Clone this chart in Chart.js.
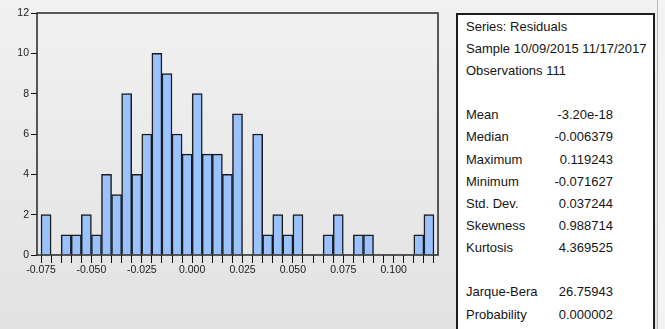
<!DOCTYPE html>
<html>
<head>
<meta charset="utf-8">
<script src="https://cdn.jsdelivr.net/npm/chart.js@4/dist/chart.umd.min.js"></script>
<style>
  html, body { margin: 0; padding: 0; }
  body {
    width: 665px; height: 329px; overflow: hidden; position: relative;
    background: linear-gradient(#f1f1f1, #e2e2e2);
    font-family: "Liberation Sans", Arial, sans-serif;
  }
  #plot { position: absolute; left: 0; top: 0; }
  #stats {
    position: absolute; left: 456px; top: 13px; width: 199px; height: 330px;
    box-sizing: border-box; background: #fff; border: 2px solid #1e1e1e;
  }
  #stats .row { position: absolute; left: 0; width: 155px; height: 22px; line-height: 22px;
    font-size: 13px; color: #151515; white-space: nowrap; }
  #stats .lbl { position: absolute; left: 8px; top: 0; }
  #stats .val { position: absolute; left: 0; width: 155px; top: 0; text-align: right; }
  #edge { position: absolute; left: 657px; top: 0; width: 1px; height: 329px; background: #b9b9b9; }
  #edgefill { position: absolute; left: 658px; top: 0; width: 7px; height: 329px; background: #f3f3f3; }
</style>
</head>
<body>
<canvas id="plot" width="450" height="329"></canvas>
<div id="stats"></div>
<div id="edge"></div>
<div id="edgefill"></div>
<script>
// Histogram of residuals: bins of width 0.005 starting at -0.075
const binWidth = 0.005;
const binStarts = [
  -0.075, -0.070, -0.065, -0.060, -0.055, -0.050, -0.045, -0.040, -0.035, -0.030,
  -0.025, -0.020, -0.015, -0.010, -0.005, 0.000, 0.005, 0.010, 0.015, 0.020,
  0.025, 0.030, 0.035, 0.040, 0.045, 0.050, 0.055, 0.060, 0.065, 0.070,
  0.075, 0.080, 0.085, 0.090, 0.095, 0.100, 0.105, 0.110, 0.115
];
const counts = [
  2, 0, 1, 1, 2, 1, 4, 3, 8, 4,
  6, 10, 9, 6, 5, 8, 5, 5, 4, 7,
  0, 6, 1, 2, 1, 2, 0, 0, 1, 2,
  0, 1, 1, 0, 0, 0, 0, 1, 2
];
// Tick marks on every bin edge, labels every fifth edge
const tickEdges = [
  -0.075, -0.070, -0.065, -0.060, -0.055, -0.050, -0.045, -0.040, -0.035, -0.030,
  -0.025, -0.020, -0.015, -0.010, -0.005, 0.000, 0.005, 0.010, 0.015, 0.020,
  0.025, 0.030, 0.035, 0.040, 0.045, 0.050, 0.055, 0.060, 0.065, 0.070,
  0.075, 0.080, 0.085, 0.090, 0.095, 0.100, 0.105, 0.110, 0.115, 0.120
];
const xLabelValues = [-0.075, -0.050, -0.025, 0.000, 0.025, 0.050, 0.075, 0.100];
const xTickLabels = ['-0.075', '-0.050', '-0.025', '0.000', '0.025', '0.050', '0.075', '0.100'];
const yTicks = [0, 2, 4, 6, 8, 10, 12];

// Descriptive statistics panel
const headerLines = ['Series: Residuals', 'Sample 10/09/2015 11/17/2017', 'Observations 111'];
const statLabels = ['Mean', 'Median', 'Maximum', 'Minimum', 'Std. Dev.', 'Skewness', 'Kurtosis'];
const statValues = ['-3.20e-18', '-0.006379', '0.119243', '-0.071627', '0.037244', '0.988714', '4.369525'];
const testLabels = ['Jarque-Bera', 'Probability'];
const testValues = ['26.75943', '0.000002'];

(function buildStats() {
  const box = document.getElementById('stats');
  const rows = [];
  headerLines.forEach(t => rows.push([t, '']));
  rows.push(null);
  statLabels.forEach((t, i) => rows.push([t, statValues[i]]));
  rows.push(null);
  testLabels.forEach((t, i) => rows.push([t, testValues[i]]));
  const step = 22.15, first = 0.6;
  rows.forEach((r, i) => {
    if (!r) return;
    const row = document.createElement('div');
    row.className = 'row';
    row.style.top = (first + i * step) + 'px';
    const l = document.createElement('span');
    l.className = 'lbl'; l.textContent = r[0];
    row.appendChild(l);
    if (r[1]) {
      const v = document.createElement('span');
      v.className = 'val'; v.textContent = r[1];
      row.appendChild(v);
    }
    box.appendChild(row);
  });
})();

Chart.defaults.font.family = '"Liberation Sans", Arial, sans-serif';

// Closed frame around the plotting area
const frame = {
  id: 'frame',
  afterDatasetsDraw(chart) {
    const a = chart.chartArea, ctx = chart.ctx;
    ctx.save();
    ctx.strokeStyle = '#262626';
    ctx.lineWidth = 1.5;
    ctx.strokeRect(a.left, a.top, a.right - a.left, a.bottom - a.top);
    ctx.restore();
  }
};

new Chart(document.getElementById('plot'), {
  type: 'bar',
  data: {
    datasets: [{
      data: binStarts.map((s, i) => ({ x: s + binWidth / 2, y: counts[i] })),
      backgroundColor: '#99c2ff',
      borderColor: '#1c1c1c',
      borderWidth: 1.5,
      barPercentage: 1,
      categoryPercentage: 1
    }]
  },
  options: {
    responsive: false,
    devicePixelRatio: 1,
    animation: false,
    layout: { padding: { top: 13, right: 12, left: 0, bottom: 0 } },
    plugins: { legend: { display: false }, tooltip: { enabled: false } },
    scales: {
      x: {
        type: 'linear',
        offset: false,
        min: -0.077,
        max: 0.122,
        afterFit(s) { s.height = 74; s.paddingLeft = 0; s.paddingRight = 0; },
        afterBuildTicks(s) { s.ticks = tickEdges.map(v => ({ value: v })); },
        border: { display: false },
        grid: { offset: false, drawOnChartArea: false, drawTicks: true, tickLength: 8, color: '#111', lineWidth: 1 },
        ticks: {
          autoSkip: false, maxRotation: 0, padding: 1,
          color: '#1a1a1a', font: { size: 10.5 },
          callback(value) {
            const k = xLabelValues.findIndex(v => Math.abs(v - value) < 1e-9);
            return k >= 0 ? xTickLabels[k] : '';
          }
        }
      },
      y: {
        min: 0,
        max: 12,
        afterFit(s) { s.width = 37; s.paddingTop = 0; s.paddingBottom = 0; },
        afterBuildTicks(s) { s.ticks = yTicks.map(v => ({ value: v })); },
        border: { display: false },
        grid: { drawOnChartArea: false, drawTicks: true, tickLength: 6, color: '#111', lineWidth: 1 },
        ticks: { padding: 2, color: '#1a1a1a', font: { size: 10.5 } }
      }
    }
  },
  plugins: [frame]
});
</script>
</body>
</html>
